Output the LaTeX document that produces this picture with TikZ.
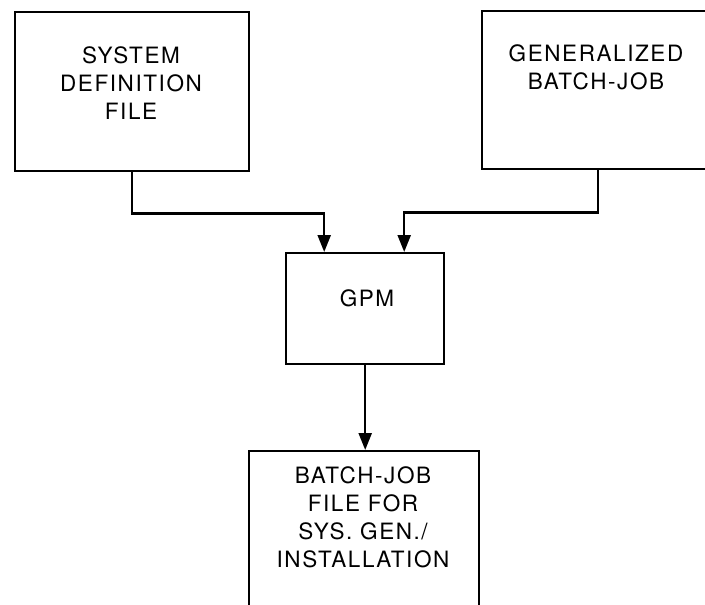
\documentclass[tikz,border=0pt]{standalone}
\usepackage{fontspec}
\setmainfont{TeX Gyre Heros}[LetterSpace=7]
\usetikzlibrary{arrows.meta,positioning}

\begin{document}
\begin{tikzpicture}[x=1pt, y=-1pt,
    block/.style={draw, line width=2.4pt, anchor=north west, inner sep=0pt},
    caption/.style={align=center, font=\fontsize{22.5}{28}\selectfont},
    flow/.style={line width=2.4pt, -{Triangle[length=17pt,width=13pt]}}]
  \useasboundingbox (0,0) rectangle (705,605);

  % boxes
  \node[block, minimum width=234pt, minimum height=159pt] (sdf) at (14,11) {};
  \node[block, minimum width=232pt, minimum height=158pt] (gen) at (481,10) {};
  \node[block, minimum width=158pt, minimum height=111pt] (gpm) at (285,252) {};
  \node[block, minimum width=230pt, minimum height=180pt] (out) at (248,450) {};

  % texts
  \node[caption] (sdftext) at (131,83.5) {SYSTEM\\DEFINITION\\FILE};
  \node[caption] (gentext) at (596,67.5) {GENERALIZED\\BATCH-JOB};
  \node[caption] (gpmtext) at (367,298) {GPM};
  \node[caption] (outtext) at (363,517) {BATCH-JOB\\FILE FOR\\SYS. GEN./\\INSTALLATION};

  % connectors
  \draw[flow] (sdf.south) -- ++(0,41) -| ([xshift=-41pt]gpm.north);
  \draw[flow] (gen.south) -- ++(0,42) -| ([xshift=39pt]gpm.north);
  \draw[flow] (gpm.south) -- (gpm.south |- out.north);
\end{tikzpicture}
\end{document}
